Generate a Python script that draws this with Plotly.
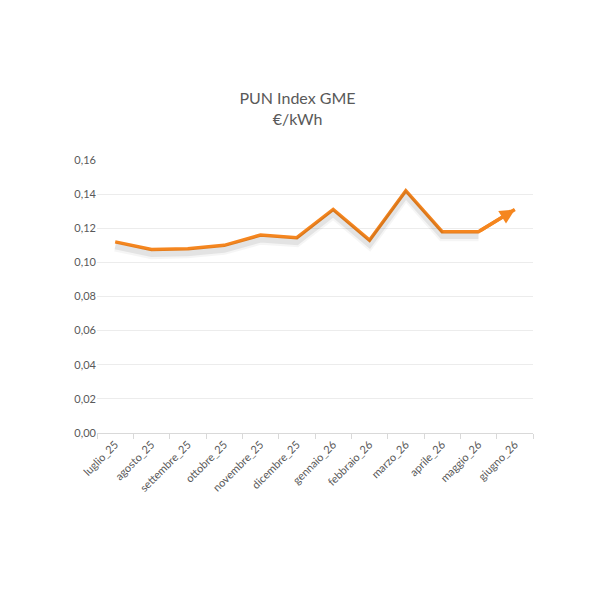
import plotly.graph_objects as go

months = ["luglio_25", "agosto_25", "settembre_25", "ottobre_25", "novembre_25", "dicembre_25",
          "gennaio_26", "febbraio_26", "marzo_26", "aprile_26", "maggio_26", "giugno_26"]
pun = [0.112, 0.1075, 0.108, 0.110, 0.116, 0.1145, 0.131, 0.113, 0.142, 0.118, 0.118, 0.131]

title_text = "PUN Index GME<br>€/kWh"
line_color = "#F5861F"
text_color = "#595959"
font_family = "Lato, 'Open Sans', sans-serif"

fig = go.Figure()

# soft shadow (drawn on overlaid axes shifted slightly downward)
for w, a, ax_name in [(9, 0.04, "y2"), (6, 0.07, "y3")]:
    fig.add_trace(go.Scatter(
        x=months[:-1], y=pun[:-1], mode="lines", yaxis=ax_name,
        line=dict(color=f"rgba(0,0,0,{a})", width=w), hoverinfo="skip", showlegend=False))

fig.add_trace(go.Scatter(
    x=months, y=pun, mode="lines",
    line=dict(color=line_color, width=3.5), showlegend=False))

# arrow head on the last segment
fig.add_annotation(
    x=len(months) - 1, y=pun[-1], ax=len(months) - 2, ay=pun[-2],
    xref="x", yref="y", axref="x", ayref="y",
    showarrow=True, arrowhead=2, arrowsize=0.85, arrowwidth=3.5,
    arrowcolor=line_color, standoff=0, text="")

fig.update_layout(
    width=595, height=595,
    margin=dict(l=97, r=62, t=160, b=162),
    paper_bgcolor="white", plot_bgcolor="white",
    separators=",.",
    font=dict(family=font_family, color=text_color, size=11),
    title=dict(text=title_text, x=0.5, xanchor="center", y=1 - 104 / 595, yanchor="top",
               font=dict(family=font_family, size=16, color=text_color)),
    xaxis=dict(type="category", categoryorder="array", categoryarray=months,
               range=[-0.5, len(months) - 0.5],
               tickangle=-45, tickson="boundaries", ticks="outside", ticklen=5,
               tickcolor="#d9d9d9", showline=True, linecolor="#d9d9d9", linewidth=1,
               showgrid=False, zeroline=False,
               tickfont=dict(size=11, color=text_color)),
    yaxis=dict(range=[0, 0.16], dtick=0.02, tickformat=".2f",
               showgrid=True, gridcolor="#ececec", gridwidth=1,
               zeroline=False, showline=False, ticks="", ticklen=0,
               tickfont=dict(size=11, color=text_color)),
    yaxis2=dict(range=[0.0030, 0.1630], overlaying="y", visible=False),
    yaxis3=dict(range=[0.0026, 0.1626], overlaying="y", visible=False),
)

fig.write_html("out.html")
